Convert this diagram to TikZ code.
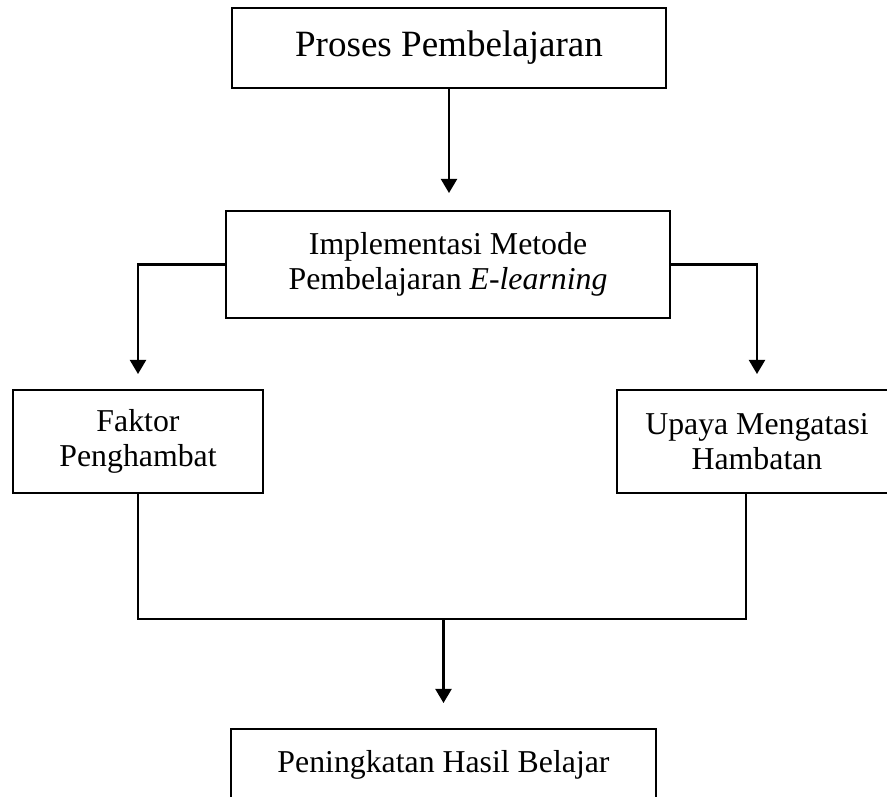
\documentclass[tikz,border=0pt]{standalone}
\usepackage{fontspec}
\setmainfont{Liberation Serif}
\usetikzlibrary{arrows.meta}

\begin{document}
\begin{tikzpicture}[x=0.02cm,y=-0.02cm]
    \tikzset{kotak/.style = {shape=rectangle,draw,line width=1.1pt,inner sep=0pt,align=center,font=\fontsize{18.1}{19.8}\selectfont}}
    \tikzset{kotakJudul/.style = {kotak,font=\fontsize{21.1}{24}\selectfont}}

    \tikzset{garis/.style = {line width=1.1pt}}
    \tikzset{panah/.style = {line width=1.5pt,-{Triangle[width=9pt,length=8pt]}}}

    \useasboundingbox (0,0) rectangle (887,797);

    \node[kotakJudul,minimum width=8.7cm,minimum height=1.6cm] (proses) at (449,48) {Proses Pembelajaran};
    \node[kotak,minimum width=8.88cm,minimum height=2.14cm] (implementasi) at (448,264.5) {Implementasi Metode\\Pembelajaran \textit{E-learning}};

    \node[kotak,minimum width=5cm,minimum height=2.06cm] (faktor) at (138,441.5) {Faktor\\Penghambat};
    \node[kotak,minimum width=5.6cm,minimum height=2.06cm] (upaya) at (757,441.5) {Upaya Mengatasi\\Hambatan};

    \node[kotak,minimum width=8.5cm,minimum height=1.42cm] (peningkatan) at (443.5,764.5) {Peningkatan Hasil Belajar};

    \coordinate (gabung) at (443.5,619);

    \draw[panah,shorten >=0.34cm] (proses.south) -- (implementasi.north -| proses.south);

    \draw[panah,shorten >=0.3cm] (implementasi.west) -| (faktor.north);
    \draw[panah,shorten >=0.3cm] (implementasi.east) -| (upaya.north);

    \draw[garis] (faktor.south) |- (gabung) -| ([xshift=-0.22cm]upaya.south);
    \draw[panah,shorten >=0.5cm] (gabung) -- (peningkatan.north);

\end{tikzpicture}
\end{document}
